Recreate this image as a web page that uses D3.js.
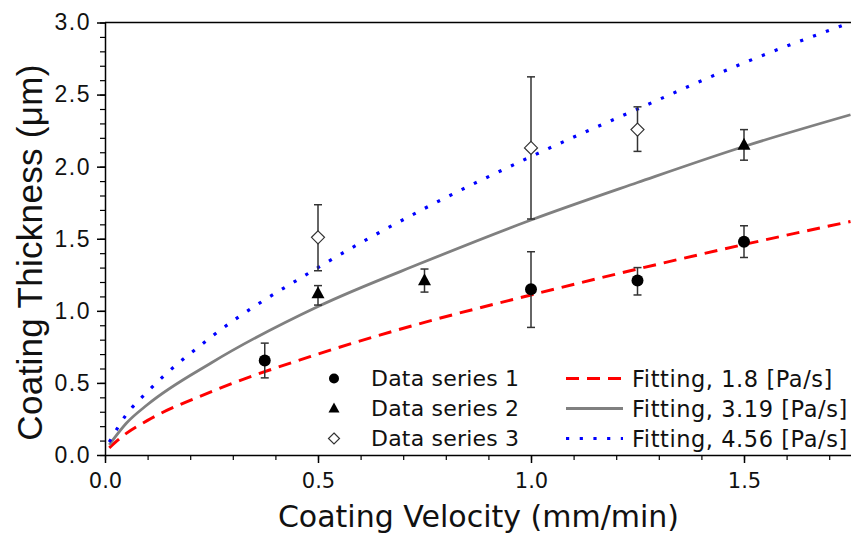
<!DOCTYPE html>
<html>
<head>
<meta charset="utf-8">
<script src="https://cdn.jsdelivr.net/npm/d3@7"></script>
<style>
  html, body { margin: 0; padding: 0; background: #fff; }
  svg { display: block; }
</style>
</head>
<body>
<svg id="chart" width="851" height="533"></svg>
<script>
// ---- data ----
const s1X = [0.375, 1.0, 1.25, 1.5];
const s1Y = [0.655, 1.15, 1.21, 1.48];
const s1Lo = [0.535, 0.885, 1.11, 1.37];
const s1Hi = [0.776, 1.41, 1.30, 1.59];

const s2X = [0.5, 0.75, 1.5];
const s2Y = [1.12, 1.21, 2.15];
const s2Lo = [1.04, 1.13, 2.045];
const s2Hi = [1.175, 1.29, 2.257];

const s3X = [0.5, 1.0, 1.25];
const s3Y = [1.51, 2.13, 2.257];
const s3Lo = [1.278, 1.637, 2.106];
const s3Hi = [1.736, 2.623, 2.415];

const fitX = [0.01, 0.05, 0.1, 0.25, 0.5, 0.75, 1.0, 1.25, 1.5, 1.75];
const fit18 = [0.05, 0.15, 0.24, 0.44, 0.70, 0.92, 1.11, 1.29, 1.46, 1.62];
const fit319 = [0.07, 0.22, 0.35, 0.64, 1.03, 1.34, 1.63, 1.89, 2.14, 2.36];
const fit456 = [0.09, 0.28, 0.44, 0.82, 1.30, 1.71, 2.07, 2.40, 2.72, 3.0];

const xMajor = [0.0, 0.5, 1.0, 1.5];
const yMajor = [0.0, 0.5, 1.0, 1.5, 2.0, 2.5, 3.0];
const seriesNames = ["Data series 1", "Data series 2", "Data series 3"];
const fitNames = ["Fitting, 1.8 [Pa/s]", "Fitting, 3.19 [Pa/s]", "Fitting, 4.56 [Pa/s]"];
const xTitle = "Coating Velocity (mm/min)";
const yTitle = "Coating Thickness (\u03BCm)";

// ---- drawing ----
const svg = d3.select("#chart");
const x = d3.scaleLinear().domain([0, 1.75]).range([105, 850.5]);
const y = d3.scaleLinear().domain([0, 3]).range([455, 22.5]);

const xMinor = d3.range(0, 1.751, 0.1).map(v => +v.toFixed(2));
const yMinor = d3.range(0, 3.001, 0.1).map(v => +v.toFixed(2));

// minor ticks
svg.append("g").attr("transform", `translate(0,${y(0)})`)
  .call(d3.axisBottom(x).tickValues(xMinor).tickSize(5).tickSizeOuter(0).tickFormat(""))
  .call(g => g.select(".domain").remove())
  .call(g => g.selectAll("line").attr("stroke", "#000").attr("stroke-width", 1.2));
svg.append("g").attr("transform", `translate(${x(0)},0)`)
  .call(d3.axisLeft(y).tickValues(yMinor).tickSize(5).tickSizeOuter(0).tickFormat(""))
  .call(g => g.select(".domain").remove())
  .call(g => g.selectAll("line").attr("stroke", "#000").attr("stroke-width", 1.2));

// major axes
const gx = svg.append("g").attr("transform", `translate(0,${y(0)})`)
  .call(d3.axisBottom(x).tickValues(xMajor).tickSize(8).tickSizeOuter(0).tickPadding(10).tickFormat(d3.format(".1f")));
gx.select(".domain").attr("stroke", "#000").attr("stroke-width", 1.5);
gx.selectAll("line").attr("stroke", "#000").attr("stroke-width", 1.5);
gx.selectAll("text").attr("font-family", "DejaVu Sans, Verdana, sans-serif").attr("font-size", 21).attr("fill", "#111");

const gy = svg.append("g").attr("transform", `translate(${x(0)},0)`)
  .call(d3.axisLeft(y).tickValues(yMajor).tickSize(8).tickSizeOuter(0).tickPadding(6).tickFormat(d3.format(".1f")));
gy.select(".domain").attr("stroke", "#000").attr("stroke-width", 1.5);
gy.selectAll("line").attr("stroke", "#000").attr("stroke-width", 1.5);
gy.selectAll("text").attr("font-family", "Liberation Sans, Arial, sans-serif").attr("font-size", 23)
  .attr("letter-spacing", 1.5).attr("fill", "#111");

// top frame line
svg.append("line").attr("x1", x(0)).attr("x2", 851).attr("y1", y(3)).attr("y2", y(3))
  .attr("stroke", "#000").attr("stroke-width", 1.5);

// axis titles
svg.append("text").attr("x", (x(0) + 850) / 2 + 1).attr("y", 527)
  .attr("text-anchor", "middle").attr("font-family", "DejaVu Sans, Verdana, sans-serif")
  .attr("font-size", 30).attr("fill", "#111").text(xTitle);
svg.append("text").attr("transform", `translate(42,${(443 + 62) / 2}) rotate(-90)`)
  .attr("text-anchor", "middle").attr("font-family", "Liberation Sans, Arial, sans-serif")
  .attr("font-size", 35).attr("letter-spacing", 0.3).attr("fill", "#111").text(yTitle);

// fitting curves
const fits = [
  { vals: fit18, color: "#ff0000", dash: "13,8", width: 3 },
  { vals: fit319, color: "#808080", dash: null, width: 2.8 },
  { vals: fit456, color: "#0000ff", dash: "3.2,10.5", width: 3.2 }
];
const line = d3.line().curve(d3.curveMonotoneX);
fits.forEach(f => {
  svg.append("path")
    .attr("d", line(fitX.map((v, i) => [x(v), y(f.vals[i])])))
    .attr("fill", "none").attr("stroke", f.color).attr("stroke-width", f.width)
    .attr("stroke-dasharray", f.dash);
});

// error bars
function errorBars(xs, lo, hi) {
  const g = svg.append("g").attr("stroke", "#333").attr("stroke-width", 1.5);
  xs.forEach((v, i) => {
    const cx = x(v);
    g.append("line").attr("x1", cx).attr("x2", cx).attr("y1", y(lo[i])).attr("y2", y(hi[i]));
    g.append("line").attr("x1", cx - 4).attr("x2", cx + 4).attr("y1", y(lo[i])).attr("y2", y(lo[i]));
    g.append("line").attr("x1", cx - 4).attr("x2", cx + 4).attr("y1", y(hi[i])).attr("y2", y(hi[i]));
  });
}
errorBars(s1X, s1Lo, s1Hi);
errorBars(s2X, s2Lo, s2Hi);
errorBars(s3X, s3Lo, s3Hi);

// markers
function circle(g, cx, cy, r) {
  g.append("circle").attr("cx", cx).attr("cy", cy).attr("r", r).attr("fill", "#000");
}
function triangle(g, cx, cy, w, h) {
  g.append("path").attr("d", `M${cx},${cy - h * 0.6}L${cx + w / 2},${cy + h * 0.4}L${cx - w / 2},${cy + h * 0.4}Z`)
    .attr("fill", "#000");
}
function diamond(g, cx, cy, r) {
  g.append("path").attr("d", `M${cx},${cy - r}L${cx + r},${cy}L${cx},${cy + r}L${cx - r},${cy}Z`)
    .attr("fill", "#fff").attr("stroke", "#333").attr("stroke-width", 1.2);
}
const gm = svg.append("g");
s1X.forEach((v, i) => circle(gm, x(v), y(s1Y[i]), 6));
s2X.forEach((v, i) => triangle(gm, x(v), y(s2Y[i]), 13, 12));
s3X.forEach((v, i) => diamond(gm, x(v), y(s3Y[i]), 6.5));

// legend
const rowY = [378.5, 408.5, 438.5];
const lg = svg.append("g");
circle(lg, 334, rowY[0], 5);
triangle(lg, 334, rowY[1], 11, 10);
diamond(lg, 334, rowY[2], 5.5);
seriesNames.forEach((t, i) => {
  lg.append("text").attr("x", 371).attr("y", rowY[i]).attr("dy", "0.36em")
    .attr("font-family", "DejaVu Sans, Verdana, sans-serif").attr("font-size", 22)
    .attr("letter-spacing", 0.2).attr("fill", "#111").text(t);
});
fits.forEach((f, i) => {
  lg.append("line").attr("x1", 566).attr("x2", 623).attr("y1", rowY[i]).attr("y2", rowY[i])
    .attr("stroke", f.color).attr("stroke-width", f.width).attr("stroke-dasharray", f.dash);
  lg.append("text").attr("x", 632).attr("y", rowY[i]).attr("dy", "0.36em")
    .attr("font-family", "DejaVu Sans, Verdana, sans-serif").attr("font-size", 22.5)
    .attr("letter-spacing", 0.55).attr("fill", "#111").text(fitNames[i]);
});
</script>
</body>
</html>
